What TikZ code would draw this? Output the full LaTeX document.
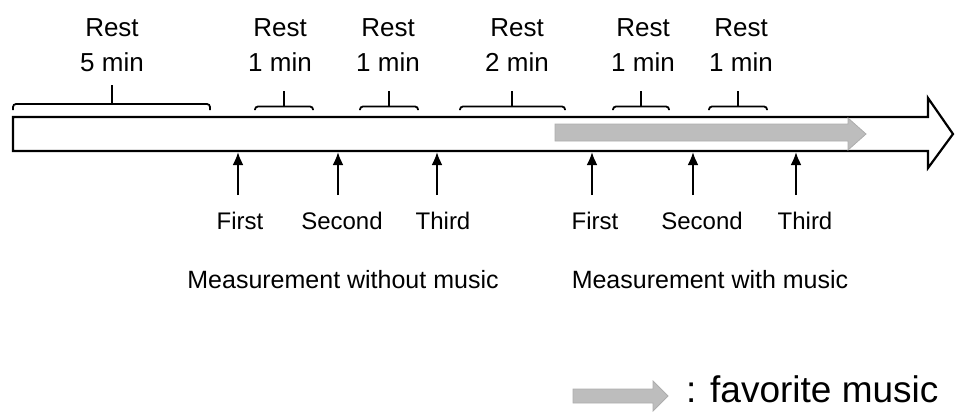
\documentclass[tikz,border=0pt]{standalone}
\usepackage{fontspec}
\setmainfont{Liberation Sans}
\usetikzlibrary{arrows.meta}
\begin{document}
\begin{tikzpicture}[x=1pt,y=-1pt]
\useasboundingbox (0,0) rectangle (956,413);
\tikzset{
 bar/.style={draw=black, line width=2.2pt, fill=white, line join=miter},
 music/.style={fill=black!26, draw=black!32, line width=0.8pt},
 bracket/.style={draw=black, line width=1.8pt, rounded corners=3pt},
 toplabel/.style={font=\fontsize{26}{35}\selectfont, align=center, inner sep=0pt},
 meas/.style={font=\fontsize{24}{28}\selectfont, inner sep=0pt, anchor=base},
 grouplabel/.style={font=\fontsize{25}{30}\selectfont, inner sep=0pt, anchor=base},
 legendlabel/.style={font=\fontsize{37}{42}\selectfont, inner sep=0pt, anchor=base west},
 uparrow/.style={draw=black, line width=2.2pt, -{Latex[length=13pt,width=11pt]}}
}
% main time arrow
\draw[bar] (13,117) -- (928,117) -- (928,98) -- (953,134) -- (928,168) -- (928,151) -- (13,151) -- cycle;
% music arrow inside
\draw[music] (555,124) -- (848,124) -- (848,118) -- (866,134) -- (848,150) -- (848,141) -- (555,141) -- cycle;

% brackets
\draw[bracket] (13,110) -- (13,104) -- (210,104) -- (210,110);
\draw[bracket] (112,104) -- (112,85);
\foreach \a/\m/\b in {255/284/313, 360/389/418, 460/512/565, 613/641/669, 709/738/767}{
  \draw[bracket] (\a,110) -- (\a,106.5) -- (\b,106.5) -- (\b,110);
  \draw[bracket] (\m,106.5) -- (\m,91);
}

% top labels
\node[toplabel] (r1) at (112,45) {Rest\\5 min};
\node[toplabel] (r2) at (280,45) {Rest\\1 min};
\node[toplabel] (r3) at (388,45) {Rest\\1 min};
\node[toplabel] (r4) at (517,45) {Rest\\2 min};
\node[toplabel] (r5) at (643,45) {Rest\\1 min};
\node[toplabel] (r6) at (741,45) {Rest\\1 min};

% measurement arrows
\foreach \i/\x in {1/238, 2/338, 3/437, 4/592, 5/693, 6/796}{
  \coordinate (s\i) at (\x,195);
  \coordinate (e\i) at (\x,152);
  \draw[uparrow] (s\i) -- (e\i);
}

% measurement labels
\node[meas] (m1) at (240,229) {First};
\node[meas] (m2) at (342,229) {Second};
\node[meas] (m3) at (443,229) {Third};
\node[meas] (m4) at (595,229) {First};
\node[meas] (m5) at (702,229) {Second};
\node[meas] (m6) at (805,229) {Third};

\node[grouplabel] (g1) at (343,288) {Measurement without music};
\node[grouplabel] (g2) at (710,288) {Measurement with music};

% legend
\draw[music] (573,389) -- (653,389) -- (653,381) -- (668,396) -- (653,411) -- (653,403) -- (573,403) -- cycle;
\node[legendlabel] (leg) at (686,402) {: favorite music};
\end{tikzpicture}
\end{document}
